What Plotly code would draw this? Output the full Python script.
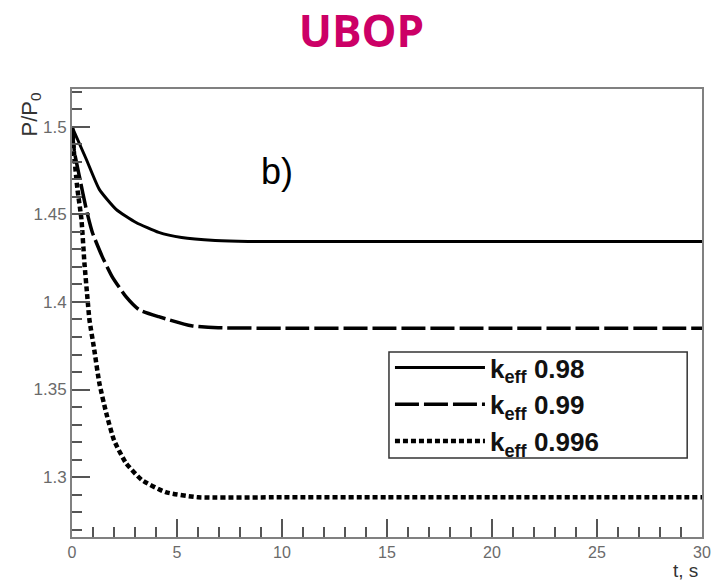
import plotly.graph_objects as go

# ---- data ----
t_098 = [0, 0.68, 1.30, 2.10, 3.05, 4.13, 5.22, 6.82, 8.38, 10, 15, 20, 25, 30]
p_098 = [1.5, 1.4815, 1.4643, 1.4529, 1.4454, 1.4397, 1.4368, 1.4351, 1.4345,
         1.4345, 1.4345, 1.4345, 1.4345, 1.4345]

t_099 = [0, 0.12, 0.35, 0.68, 0.97, 1.44, 1.91, 2.57, 3.19, 4.13, 5.69, 6.96, 10, 15, 20, 25, 30]
p_099 = [1.5, 1.4855, 1.4718, 1.4529, 1.4397, 1.4259, 1.4145, 1.4030, 1.3956, 1.3916,
         1.3864, 1.3853, 1.3850, 1.3850, 1.3850, 1.3850, 1.3850]

t_0996 = [0, 0.12, 0.26, 0.45, 0.59, 0.73, 0.83, 1.06, 1.30, 1.63, 2.0, 2.57, 3.33, 4.46,
          6.0, 10, 15, 20, 25, 30]
p_0996 = [1.5, 1.4815, 1.4643, 1.4471, 1.4225, 1.4030, 1.3899, 1.3727, 1.3538, 1.3366,
          1.3211, 1.3080, 1.2983, 1.2914, 1.2885, 1.2885, 1.2885, 1.2885, 1.2885, 1.2885]

series_names = ["<b>k<sub>eff</sub> 0.98</b>", "<b>k<sub>eff</sub> 0.99</b>", "<b>k<sub>eff</sub> 0.996</b>"]
x_ticks = [0, 5, 10, 15, 20, 25, 30]
y_ticks = [1.3, 1.35, 1.4, 1.45, 1.5]
y_tick_labels = ["1.3", "1.35", "1.4", "1.45", "1.5"]

fig = go.Figure()
fig.add_trace(go.Scatter(x=t_098, y=p_098, mode="lines", name=series_names[0],
                         line=dict(color="black", width=3, shape="spline", smoothing=0.5)))
fig.add_trace(go.Scatter(x=t_099, y=p_099, mode="lines", name=series_names[1],
                         line=dict(color="black", width=3.5, dash="24px,5px", shape="spline", smoothing=0.5)))
fig.add_trace(go.Scatter(x=t_0996, y=p_0996, mode="lines", name=series_names[2],
                         line=dict(color="black", width=4.5, dash="5px,3px", shape="spline", smoothing=0.5)))

axis_common = dict(showgrid=False, zeroline=False, showline=True, linecolor="#808080",
                   linewidth=2, mirror=True, ticks="inside", tickcolor="#555555",
                   tickwidth=1.5, ticklen=18,
                   tickfont=dict(family="Liberation Sans, Arial", size=17, color="#6a6a6a"))

fig.update_xaxes(range=[0, 30], tickvals=x_ticks, **axis_common,
                 minor=dict(ticks="inside", dtick=1, ticklen=10, tickcolor="#555555", tickwidth=1.5))
fig.update_xaxes(tickfont_size=16)
fig.update_yaxes(range=[1.2658, 1.5216], tickvals=y_ticks, ticktext=y_tick_labels, **axis_common,
                 minor=dict(ticks="inside", dtick=0.01, tick0=1.3, ticklen=10, tickcolor="#555555", tickwidth=1.5))

fig.update_layout(
    width=723, height=582,
    margin=dict(l=72, r=13, t=89, b=45),
    paper_bgcolor="white", plot_bgcolor="white",
    title=dict(text="<b>UBOP</b>", x=0.5, xanchor="center", y=1 - 32 / 582, yanchor="middle",
               font=dict(family="Open Sans", size=44, color="#CC0066")),
    showlegend=True,
    legend=dict(x=(394 - 72) / 638, y=(537 - 344) / 448, xanchor="left", yanchor="top",
                bgcolor="rgba(0,0,0,0)", borderwidth=0,
                font=dict(family="Liberation Sans, Arial", size=26, color="#111111"),
                itemwidth=90, tracegroupgap=0),
    shapes=[
        dict(type="rect", xref="paper", yref="paper",
             x0=(393 - 72) / 638, x1=(695 - 72) / 638,
             y0=(537 - 458) / 448, y1=(537 - 352) / 448,
             line=dict(color="#333333", width=1.5), fillcolor="white", layer="below"),
    ],
    annotations=[
        dict(text="b)", x=(280 - 72) / 638, y=(537 - 172) / 448, xref="paper", yref="paper",
             showarrow=False, xanchor="center", yanchor="middle",
             font=dict(family="Liberation Sans, Arial", size=36, color="black")),
        dict(text="P/P<sub>0</sub>", x=(30 - 72) / 638, y=(537 - 115) / 448, xref="paper", yref="paper",
             showarrow=False, xanchor="center", yanchor="middle", textangle=-90,
             font=dict(family="Liberation Sans, Arial", size=22, color="#333333")),
        dict(text="t, s", x=(708 - 72) / 638, y=-(583 - 537) / 448, xref="paper", yref="paper",
             showarrow=False, xanchor="right", yanchor="bottom",
             font=dict(family="Liberation Sans, Arial", size=19, color="#333333")),
    ],
)

fig.write_html("out.html")
